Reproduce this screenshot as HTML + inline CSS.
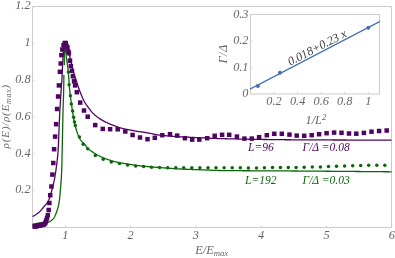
<!DOCTYPE html>
<html><head><meta charset="utf-8"><title>plot</title>
<style>html,body{margin:0;padding:0;background:#fff;}svg{display:block;will-change:transform;}text{font-family:"Liberation Serif",serif;font-style:italic;}</style></head><body>
<svg width="395" height="258" viewBox="0 0 395 258">
<rect width="395" height="258" fill="#fff"/>
<g stroke="#cbcbcb" stroke-width="1" fill="none">
<path d="M32.5,227.5 L32.5,6.5 L391.5,6.5 L391.5,227.5"/>
<path d="M32.5,227.5 L391.5,227.5"/>
</g>
<g stroke="#cbcbcb" stroke-width="0.8">
<line x1="32.5" y1="190.67" x2="34.7" y2="190.67"/>
<line x1="32.5" y1="153.83" x2="34.7" y2="153.83"/>
<line x1="32.5" y1="117.00" x2="34.7" y2="117.00"/>
<line x1="32.5" y1="80.16" x2="34.7" y2="80.16"/>
<line x1="32.5" y1="43.33" x2="34.7" y2="43.33"/>
<line x1="65.30" y1="227.5" x2="65.30" y2="225.2"/>
<line x1="130.60" y1="227.5" x2="130.60" y2="225.2"/>
<line x1="195.90" y1="227.5" x2="195.90" y2="225.2"/>
<line x1="261.20" y1="227.5" x2="261.20" y2="225.2"/>
<line x1="326.50" y1="227.5" x2="326.50" y2="225.2"/>
<line x1="391.80" y1="227.5" x2="391.80" y2="225.2"/>
</g>
<g fill="#666666" font-size="12.3">
<text x="30.6" y="193.47" text-anchor="end">0.2</text>
<text x="30.6" y="156.63" text-anchor="end">0.4</text>
<text x="30.6" y="119.80" text-anchor="end">0.6</text>
<text x="30.6" y="82.96" text-anchor="end">0.8</text>
<text x="30.6" y="46.13" text-anchor="end">1</text>
<text x="30.6" y="9.30" text-anchor="end">1.2</text>
<text x="65.30" y="238.7" text-anchor="middle">1</text>
<text x="130.60" y="238.7" text-anchor="middle">2</text>
<text x="195.90" y="238.7" text-anchor="middle">3</text>
<text x="261.20" y="238.7" text-anchor="middle">4</text>
<text x="326.50" y="238.7" text-anchor="middle">5</text>
<text x="391.80" y="238.7" text-anchor="middle">6</text>
<text x="195.3" y="254.2">E/E<tspan font-size="8.7" dy="2">max</tspan></text>
<text transform="translate(8.8,116.3) rotate(-90)" text-anchor="middle" font-size="11.3" letter-spacing="0.67">ρ(E)/ρ(E<tspan font-size="8" dy="2">max</tspan><tspan dy="-2">)</tspan></text>
</g>
<path d="M32.40,224.30 L32.89,224.20 L33.38,224.10 L33.87,224.01 L34.36,223.91 L34.85,223.82 L35.34,223.72 L35.83,223.63 L36.32,223.54 L36.81,223.45 L37.30,223.35 L37.79,223.25 L38.28,223.16 L38.77,223.07 L39.26,222.99 L39.75,222.93 L40.25,222.88 L40.74,222.83 L41.24,222.79 L41.74,222.76 L42.24,222.73 L42.73,222.70 L43.23,222.66 L43.73,222.62 L44.23,222.58 L44.73,222.53 L45.24,222.48 L45.75,222.43 L46.25,222.37 L46.76,222.31 L47.25,222.24 L47.73,222.16 L48.20,222.07 L48.66,221.96 L49.11,221.81 L49.56,221.62 L50.01,221.39 L50.46,221.13 L50.89,220.84 L51.32,220.52 L51.73,220.18 L52.13,219.84 L52.50,219.48 L52.86,219.12 L53.18,218.76 L53.48,218.41 L53.76,218.04 L54.02,217.65 L54.28,217.24 L54.53,216.81 L54.77,216.37 L55.00,215.92 L55.22,215.46 L55.43,214.98 L55.63,214.51 L55.83,214.03 L56.02,213.55 L56.20,213.07 L56.38,212.59 L56.56,212.12 L56.72,211.66 L56.89,211.19 L57.05,210.72 L57.20,210.25 L57.35,209.77 L57.50,209.29 L57.64,208.81 L57.77,208.33 L57.90,207.85 L58.03,207.36 L58.15,206.88 L58.27,206.39 L58.39,205.91 L58.50,205.42 L58.60,204.93 L58.70,204.45 L58.80,203.96 L58.90,203.47 L58.99,202.98 L59.07,202.48 L59.15,201.99 L59.23,201.50 L59.30,201.01 L59.36,200.51 L59.43,200.02 L59.49,199.52 L59.55,199.03 L59.60,198.54 L59.66,198.04 L59.71,197.54 L59.76,197.05 L59.82,196.55 L59.86,196.06 L59.91,195.56 L59.96,195.06 L60.00,194.57 L60.05,194.07 L60.09,193.57 L60.14,193.07 L60.18,192.58 L60.22,192.08 L60.27,191.58 L60.31,191.09 L60.35,190.59 L60.39,190.09 L60.43,189.60 L60.48,189.10 L60.52,188.60 L60.56,188.11 L60.61,187.61 L60.65,187.11 L60.69,186.62 L60.73,186.12 L60.78,185.62 L60.82,185.12 L60.86,184.63 L60.90,184.13 L60.94,183.63 L60.98,183.14 L61.02,182.64 L61.06,182.14 L61.10,181.64 L61.13,181.15 L61.17,180.65 L61.21,180.15 L61.24,179.65 L61.27,179.16 L61.31,178.66 L61.34,178.16 L61.37,177.66 L61.39,177.17 L61.42,176.67 L61.45,176.17 L61.47,175.67 L61.49,175.18 L61.51,174.68 L61.53,174.18 L61.55,173.68 L61.57,173.19 L61.59,172.69 L61.61,172.19 L61.63,171.69 L61.65,171.19 L61.66,170.70 L61.68,170.20 L61.70,169.70 L61.71,169.20 L61.73,168.70 L61.75,168.20 L61.76,167.71 L61.78,167.21 L61.79,166.71 L61.81,166.21 L61.82,165.71 L61.83,165.21 L61.85,164.72 L61.86,164.22 L61.87,163.72 L61.89,163.22 L61.90,162.72 L61.91,162.22 L61.93,161.73 L61.94,161.23 L61.95,160.73 L61.96,160.23 L61.97,159.73 L61.99,159.23 L62.00,158.73 L62.01,158.24 L62.02,157.74 L62.03,157.24 L62.04,156.74 L62.05,156.24 L62.07,155.74 L62.08,155.24 L62.09,154.75 L62.10,154.25 L62.11,153.75 L62.12,153.25 L62.13,152.75 L62.15,152.25 L62.16,151.75 L62.17,151.26 L62.18,150.76 L62.19,150.26 L62.21,149.76 L62.22,149.26 L62.23,148.76 L62.24,148.27 L62.25,147.77 L62.26,147.27 L62.28,146.77 L62.29,146.27 L62.30,145.77 L62.31,145.28 L62.32,144.78 L62.33,144.28 L62.34,143.78 L62.35,143.28 L62.36,142.78 L62.37,142.28 L62.38,141.79 L62.39,141.29 L62.40,140.79 L62.41,140.29 L62.43,139.79 L62.44,139.29 L62.45,138.80 L62.46,138.30 L62.47,137.80 L62.48,137.30 L62.48,136.80 L62.49,136.30 L62.50,135.81 L62.51,135.31 L62.52,134.81 L62.53,134.31 L62.54,133.81 L62.55,133.31 L62.56,132.81 L62.57,132.32 L62.58,131.82 L62.59,131.32 L62.60,130.82 L62.61,130.32 L62.62,129.82 L62.63,129.33 L62.64,128.83 L62.65,128.33 L62.66,127.83 L62.67,127.33 L62.68,126.83 L62.69,126.33 L62.70,125.84 L62.71,125.34 L62.72,124.84 L62.73,124.34 L62.74,123.84 L62.75,123.34 L62.76,122.85 L62.77,122.35 L62.78,121.85 L62.79,121.35 L62.80,120.85 L62.81,120.35 L62.82,119.85 L62.83,119.36 L62.84,118.86 L62.85,118.36 L62.86,117.86 L62.87,117.36 L62.89,116.86 L62.90,116.37 L62.91,115.87 L62.92,115.37 L62.93,114.87 L62.94,114.37 L62.95,113.87 L62.97,113.38 L62.98,112.88 L62.99,112.38 L63.00,111.88 L63.02,111.38 L63.03,110.88 L63.04,110.39 L63.06,109.89 L63.07,109.39 L63.08,108.89 L63.10,108.39 L63.11,107.89 L63.13,107.40 L63.14,106.90 L63.16,106.40 L63.17,105.90 L63.19,105.40 L63.21,104.90 L63.22,104.41 L63.24,103.91 L63.25,103.41 L63.27,102.91 L63.29,102.41 L63.30,101.91 L63.32,101.42 L63.34,100.92 L63.35,100.42 L63.37,99.92 L63.38,99.42 L63.40,98.92 L63.42,98.43 L63.43,97.93 L63.45,97.43 L63.46,96.93 L63.48,96.43 L63.50,95.93 L63.51,95.44 L63.53,94.94 L63.54,94.44 L63.55,93.94 L63.57,93.44 L63.58,92.94 L63.60,92.45 L63.61,91.95 L63.62,91.45 L63.63,90.95 L63.65,90.45 L63.66,89.95 L63.67,89.46 L63.68,88.96 L63.69,88.46 L63.70,87.96 L63.71,87.46 L63.72,86.96 L63.73,86.47 L63.74,85.97 L63.75,85.47 L63.76,84.97 L63.77,84.47 L63.77,83.97 L63.78,83.47 L63.79,82.98 L63.80,82.48 L63.81,81.98 L63.81,81.48 L63.82,80.98 L63.83,80.48 L63.84,79.99 L63.84,79.49 L63.85,78.99 L63.86,78.49 L63.86,77.99 L63.87,77.49 L63.88,76.99 L63.88,76.50 L63.89,76.00 L63.89,75.50 L63.90,75.00" fill="none" stroke="#0a680a" stroke-width="1.3" stroke-linejoin="round"/>
<path d="M64.30,65.30 L64.30,64.11 L64.30,62.97 L64.30,61.86 L64.30,60.79 L64.30,59.76 L64.31,58.77 L64.31,57.82 L64.31,56.90 L64.31,56.02 L64.31,55.18 L64.32,54.36 L64.32,53.59 L64.32,52.84 L64.33,52.13 L64.33,51.46 L64.34,50.81 L64.34,50.19 L64.35,49.61 L64.35,49.05 L64.36,48.53 L64.37,48.03 L64.37,47.56 L64.38,47.12 L64.39,46.70 L64.39,46.31 L64.40,45.95 L64.41,45.61 L64.42,45.29 L64.43,45.00 L64.43,44.73 L64.44,44.48 L64.45,44.25 L64.46,44.05 L64.47,43.87 L64.48,43.70 L64.49,43.56 L64.51,43.43 L64.52,43.32 L64.53,43.23 L64.54,43.15 L64.55,43.09 L64.57,43.05 L64.58,43.02 L64.59,43.00 L64.61,43.01 L64.63,43.10 L64.66,43.28 L64.70,43.56 L64.74,43.91 L64.80,44.34 L64.86,44.82 L64.92,45.36 L64.99,45.94 L65.06,46.55 L65.13,47.19 L65.21,47.84 L65.28,48.50 L65.36,49.16 L65.43,49.81 L65.51,50.44 L65.58,51.03 L65.65,51.59 L65.71,52.10 L65.78,52.60 L65.84,53.09 L65.91,53.59 L65.97,54.08 L66.04,54.58 L66.11,55.07 L66.17,55.57 L66.24,56.06 L66.31,56.56 L66.37,57.05 L66.44,57.55 L66.51,58.04 L66.57,58.54 L66.64,59.03 L66.71,59.53 L66.78,60.02 L66.85,60.52 L66.92,61.01 L66.99,61.51 L67.06,62.00 L67.14,62.50 L67.21,62.99 L67.28,63.49 L67.35,63.98 L67.42,64.48 L67.49,64.97 L67.56,65.47 L67.62,65.96 L67.69,66.46 L67.75,66.95 L67.81,67.45 L67.87,67.94 L67.93,68.44 L67.99,68.94 L68.04,69.43 L68.09,69.93 L68.14,70.43 L68.19,70.92 L68.23,71.42 L68.28,71.92 L68.32,72.41 L68.36,72.91 L68.40,73.41 L68.44,73.91 L68.48,74.41 L68.52,74.90 L68.56,75.40 L68.59,75.90 L68.63,76.40 L68.67,76.90 L68.71,77.40 L68.74,77.89 L68.78,78.39 L68.82,78.89 L68.85,79.39 L68.89,79.89 L68.93,80.39 L68.97,80.88 L69.00,81.38 L69.04,81.88 L69.07,82.38 L69.11,82.88 L69.14,83.38 L69.18,83.87 L69.21,84.37 L69.25,84.87 L69.29,85.37 L69.32,85.87 L69.36,86.37 L69.40,86.86 L69.44,87.36 L69.49,87.86 L69.53,88.36 L69.58,88.85 L69.63,89.35 L69.68,89.85 L69.73,90.34 L69.79,90.84 L69.84,91.34 L69.90,91.83 L69.96,92.33 L70.02,92.83 L70.07,93.32 L70.13,93.82 L70.19,94.31 L70.26,94.81 L70.32,95.31 L70.38,95.80 L70.44,96.30 L70.50,96.79 L70.56,97.29 L70.62,97.79 L70.68,98.28 L70.74,98.78 L70.80,99.27 L70.86,99.77 L70.93,100.26 L70.99,100.76 L71.05,101.26 L71.12,101.75 L71.18,102.25 L71.25,102.74 L71.32,103.24 L71.38,103.73 L71.45,104.23 L71.52,104.72 L71.59,105.22 L71.66,105.71 L71.73,106.21 L71.80,106.70 L71.88,107.19 L71.95,107.69 L72.03,108.18 L72.10,108.67 L72.18,109.17 L72.26,109.66 L72.33,110.16 L72.41,110.65 L72.49,111.15 L72.56,111.64 L72.64,112.14 L72.72,112.63 L72.80,113.13 L72.88,113.62 L72.96,114.12 L73.04,114.61 L73.12,115.11 L73.21,115.60 L73.29,116.10 L73.38,116.59 L73.46,117.09 L73.55,117.58 L73.64,118.08 L73.73,118.57 L73.82,119.06 L73.91,119.55 L74.01,120.05 L74.10,120.54 L74.20,121.03 L74.30,121.52 L74.40,122.01 L74.50,122.49 L74.61,122.98 L74.71,123.47 L74.82,123.95 L74.93,124.44 L75.04,124.92 L75.15,125.41 L75.27,125.89 L75.39,126.37 L75.51,126.85 L75.63,127.33 L75.76,127.81 L75.89,128.29 L76.02,128.77 L76.16,129.26 L76.30,129.74 L76.44,130.23 L76.59,130.72 L76.74,131.21 L76.90,131.69 L77.06,132.18 L77.22,132.66 L77.39,133.14 L77.57,133.62 L77.74,134.10 L77.92,134.58 L78.11,135.05 L78.30,135.51 L78.50,135.98 L78.70,136.43 L78.90,136.88 L79.11,137.33 L79.33,137.77 L79.55,138.21 L79.77,138.63 L80.00,139.05 L80.24,139.47 L80.49,139.87 L80.78,140.26 L81.08,140.64 L81.40,141.02 L81.74,141.39 L82.08,141.75 L82.44,142.11 L82.80,142.47 L83.17,142.83 L83.53,143.19 L83.89,143.55 L84.25,143.92 L84.59,144.29 L84.92,144.67 L85.24,145.06 L85.54,145.46 L85.84,145.86 L86.13,146.28 L86.43,146.68 L86.73,147.09 L87.03,147.48 L87.35,147.86 L87.68,148.22 L88.03,148.56 L88.39,148.90 L88.77,149.22 L89.15,149.54 L89.54,149.85 L89.94,150.16 L90.35,150.46 L90.76,150.75 L91.18,151.04 L91.59,151.33 L92.01,151.61 L92.42,151.89 L92.83,152.17 L93.25,152.44 L93.67,152.71 L94.09,152.98 L94.51,153.25 L94.94,153.51 L95.37,153.77 L95.80,154.03 L96.23,154.29 L96.66,154.54 L97.10,154.78 L97.54,155.03 L97.98,155.27 L98.42,155.50 L98.86,155.73 L99.31,155.96 L99.75,156.18 L100.20,156.40 L100.65,156.61 L101.10,156.82 L101.55,157.03 L102.01,157.23 L102.47,157.43 L102.93,157.63 L103.39,157.82 L103.85,158.01 L104.32,158.20 L104.78,158.39 L105.25,158.57 L105.72,158.75 L106.19,158.92 L106.66,159.09 L107.13,159.26 L107.60,159.43 L108.07,159.59 L108.54,159.76 L109.01,159.92 L109.49,160.08 L109.96,160.23 L110.44,160.39 L110.91,160.54 L111.39,160.69 L111.87,160.84 L112.35,160.98 L112.83,161.12 L113.31,161.26 L113.79,161.39 L114.28,161.52 L114.76,161.64 L115.24,161.76 L115.73,161.88 L116.21,161.99 L116.70,162.10 L117.19,162.20 L117.68,162.31 L118.17,162.41 L118.66,162.50 L119.15,162.60 L119.64,162.69 L120.13,162.79 L120.62,162.88 L121.11,162.97 L121.61,163.05 L122.10,163.14 L122.59,163.23 L123.08,163.31 L123.57,163.40 L124.07,163.48 L124.56,163.57 L125.05,163.65 L125.55,163.73 L126.04,163.80 L126.53,163.88 L127.03,163.96 L127.52,164.03 L128.01,164.11 L128.51,164.18 L129.00,164.26 L129.50,164.33 L129.99,164.41 L130.48,164.48 L130.98,164.56 L131.47,164.63 L131.97,164.71 L132.46,164.78 L132.95,164.86 L133.45,164.94 L133.94,165.01 L134.44,165.08 L134.93,165.16 L135.42,165.23 L135.92,165.30 L136.41,165.37 L136.91,165.44 L137.40,165.50 L137.90,165.56 L138.40,165.62 L138.89,165.68 L139.39,165.74 L139.88,165.79 L140.38,165.85 L140.88,165.90 L141.37,165.95 L141.87,166.00 L142.37,166.05 L142.87,166.10 L143.36,166.14 L143.86,166.19 L144.36,166.24 L144.86,166.29 L145.35,166.33 L145.85,166.38 L146.35,166.43 L146.85,166.47 L147.34,166.52 L147.84,166.56 L148.34,166.61 L148.84,166.65 L149.33,166.70 L149.83,166.74 L150.33,166.79 L150.83,166.83 L151.32,166.87 L151.82,166.92 L152.32,166.96 L152.82,167.00 L153.31,167.04 L153.81,167.09 L154.31,167.13 L154.81,167.17 L155.31,167.21 L155.80,167.25 L156.30,167.29 L156.80,167.33 L157.30,167.37 L157.80,167.41 L158.29,167.45 L158.79,167.49 L159.29,167.53 L159.79,167.57 L160.29,167.61 L160.78,167.64 L161.28,167.68 L161.78,167.72 L162.28,167.76 L162.78,167.80 L163.27,167.84 L163.77,167.88 L164.27,167.91 L164.77,167.95 L165.27,167.99 L165.77,168.03 L166.26,168.07 L166.76,168.10 L167.26,168.14 L167.76,168.18 L168.26,168.22 L168.75,168.25 L169.25,168.29 L169.75,168.33 L170.25,168.36 L170.75,168.40 L171.25,168.43 L171.74,168.47 L172.24,168.50 L172.74,168.54 L173.24,168.57 L173.74,168.60 L174.24,168.64 L174.74,168.67 L175.23,168.70 L175.73,168.73 L176.23,168.76 L176.73,168.79 L177.23,168.82 L177.73,168.85 L178.23,168.88 L178.72,168.91 L179.22,168.93 L179.72,168.96 L180.22,168.99 L180.72,169.01 L181.22,169.04 L181.72,169.06 L182.22,169.08 L182.71,169.11 L183.21,169.13 L183.71,169.15 L184.21,169.17 L184.71,169.19 L185.21,169.21 L185.71,169.23 L186.21,169.25 L186.71,169.27 L187.21,169.29 L187.71,169.31 L188.20,169.33 L188.70,169.35 L189.20,169.37 L189.70,169.39 L190.20,169.41 L190.70,169.42 L191.20,169.44 L191.70,169.46 L192.20,169.48 L192.70,169.50 L193.20,169.51 L193.70,169.53 L194.20,169.55 L194.70,169.57 L195.19,169.58 L195.69,169.60 L196.19,169.62 L196.69,169.64 L197.19,169.65 L197.69,169.67 L198.19,169.69 L198.69,169.71 L199.19,169.73 L199.69,169.75 L200.19,169.76 L200.69,169.78 L201.19,169.80 L201.69,169.82 L202.18,169.84 L202.68,169.86 L203.18,169.89 L203.68,169.91 L204.18,169.93 L204.68,169.95 L205.18,169.97 L205.68,170.00 L206.18,170.02 L206.68,170.04 L207.18,170.07 L207.68,170.09 L208.17,170.11 L208.67,170.13 L209.17,170.16 L209.67,170.18 L210.17,170.20 L210.67,170.22 L211.17,170.25 L211.67,170.27 L212.17,170.29 L212.67,170.31 L213.17,170.33 L213.67,170.35 L214.16,170.36 L214.66,170.38 L215.16,170.40 L215.66,170.42 L216.16,170.43 L216.66,170.45 L217.16,170.46 L217.66,170.47 L218.16,170.48 L218.66,170.49 L219.16,170.50 L219.66,170.51 L220.16,170.52 L220.66,170.52 L221.15,170.53 L221.65,170.54 L222.15,170.54 L222.65,170.55 L223.15,170.55 L223.65,170.56 L224.15,170.56 L224.65,170.57 L225.15,170.58 L225.65,170.58 L226.15,170.59 L226.65,170.59 L227.15,170.60 L227.65,170.60 L228.15,170.61 L228.65,170.61 L229.14,170.62 L229.64,170.62 L230.14,170.63 L230.64,170.63 L231.14,170.64 L231.64,170.64 L232.14,170.65 L232.64,170.65 L233.14,170.65 L233.64,170.66 L234.14,170.66 L234.64,170.67 L235.14,170.67 L235.64,170.68 L236.14,170.68 L236.64,170.68 L237.14,170.69 L237.64,170.69 L238.14,170.70 L238.63,170.70 L239.13,170.70 L239.63,170.71 L240.13,170.71 L240.63,170.71 L241.13,170.72 L241.63,170.72 L242.13,170.72 L242.63,170.73 L243.13,170.73 L243.63,170.73 L244.13,170.74 L244.63,170.74 L245.13,170.74 L245.63,170.75 L246.13,170.75 L246.63,170.75 L247.13,170.76 L247.63,170.76 L248.13,170.76 L248.63,170.76 L249.13,170.77 L249.62,170.77 L250.12,170.77 L250.62,170.78 L251.12,170.78 L251.62,170.78 L252.12,170.78 L252.62,170.79 L253.12,170.79 L253.62,170.79 L254.12,170.79 L254.62,170.80 L255.12,170.80 L255.62,170.80 L256.12,170.80 L256.62,170.81 L257.12,170.81 L257.62,170.81 L258.12,170.81 L258.62,170.81 L259.12,170.82 L259.62,170.82 L260.12,170.82 L260.62,170.82 L261.12,170.83 L261.62,170.83 L262.11,170.83 L262.61,170.83 L263.11,170.84 L263.61,170.84 L264.11,170.84 L264.61,170.84 L265.11,170.84 L265.61,170.85 L266.11,170.85 L266.61,170.85 L267.11,170.85 L267.61,170.85 L268.11,170.86 L268.61,170.86 L269.11,170.86 L269.61,170.86 L270.11,170.87 L270.61,170.87 L271.11,170.87 L271.61,170.87 L272.11,170.87 L272.61,170.88 L273.11,170.88 L273.61,170.88 L274.11,170.88 L274.61,170.89 L275.10,170.89 L275.60,170.89 L276.10,170.89 L276.60,170.89 L277.10,170.90 L277.60,170.90 L278.10,170.90 L278.60,170.90 L279.10,170.91 L279.60,170.91 L280.10,170.91 L280.60,170.91 L281.10,170.92 L281.60,170.92 L282.10,170.92 L282.60,170.92 L283.10,170.93 L283.60,170.93 L284.10,170.93 L284.60,170.93 L285.10,170.94 L285.60,170.94 L286.10,170.94 L286.60,170.95 L287.10,170.95 L287.59,170.95 L288.09,170.95 L288.59,170.96 L289.09,170.96 L289.59,170.96 L290.09,170.97 L290.59,170.97 L291.09,170.97 L291.59,170.98 L292.09,170.98 L292.59,170.98 L293.09,170.99 L293.59,170.99 L294.09,170.99 L294.59,171.00 L295.09,171.00 L295.59,171.00 L296.09,171.01 L296.59,171.01 L297.09,171.02 L297.59,171.02 L298.09,171.02 L298.59,171.03 L299.08,171.03 L299.58,171.03 L300.08,171.04 L300.58,171.04 L301.08,171.04 L301.58,171.05 L302.08,171.05 L302.58,171.06 L303.08,171.06 L303.58,171.06 L304.08,171.07 L304.58,171.07 L305.08,171.07 L305.58,171.08 L306.08,171.08 L306.58,171.09 L307.08,171.09 L307.58,171.09 L308.08,171.10 L308.58,171.10 L309.08,171.10 L309.58,171.11 L310.07,171.11 L310.57,171.12 L311.07,171.12 L311.57,171.12 L312.07,171.13 L312.57,171.13 L313.07,171.13 L313.57,171.14 L314.07,171.14 L314.57,171.15 L315.07,171.15 L315.57,171.15 L316.07,171.16 L316.57,171.16 L317.07,171.17 L317.57,171.17 L318.07,171.17 L318.57,171.18 L319.07,171.18 L319.57,171.18 L320.07,171.19 L320.57,171.19 L321.06,171.20 L321.56,171.20 L322.06,171.20 L322.56,171.21 L323.06,171.21 L323.56,171.22 L324.06,171.22 L324.56,171.22 L325.06,171.23 L325.56,171.23 L326.06,171.24 L326.56,171.24 L327.06,171.24 L327.56,171.25 L328.06,171.25 L328.56,171.26 L329.06,171.26 L329.56,171.26 L330.06,171.27 L330.56,171.27 L331.06,171.28 L331.56,171.28 L332.05,171.28 L332.55,171.29 L333.05,171.29 L333.55,171.30 L334.05,171.30 L334.55,171.30 L335.05,171.31 L335.55,171.31 L336.05,171.32 L336.55,171.32 L337.05,171.32 L337.55,171.33 L338.05,171.33 L338.55,171.34 L339.05,171.34 L339.55,171.34 L340.05,171.35 L340.55,171.35 L341.05,171.36 L341.55,171.36 L342.05,171.36 L342.54,171.37 L343.04,171.37 L343.54,171.38 L344.04,171.38 L344.54,171.39 L345.04,171.39 L345.54,171.39 L346.04,171.40 L346.54,171.40 L347.04,171.41 L347.54,171.41 L348.04,171.41 L348.54,171.42 L349.04,171.42 L349.54,171.43 L350.04,171.43 L350.54,171.44 L351.04,171.44 L351.54,171.44 L352.04,171.45 L352.54,171.45 L353.04,171.46 L353.53,171.46 L354.03,171.47 L354.53,171.47 L355.03,171.47 L355.53,171.48 L356.03,171.48 L356.53,171.49 L357.03,171.49 L357.53,171.50 L358.03,171.50 L358.53,171.50 L359.03,171.51 L359.53,171.51 L360.03,171.52 L360.53,171.52 L361.03,171.53 L361.53,171.53 L362.03,171.53 L362.53,171.54 L363.03,171.54 L363.53,171.55 L364.03,171.55 L364.52,171.56 L365.02,171.56 L365.52,171.57 L366.02,171.57 L366.52,171.57 L367.02,171.58 L367.52,171.58 L368.02,171.59 L368.52,171.59 L369.02,171.60 L369.52,171.60 L370.02,171.60 L370.52,171.61 L371.02,171.61 L371.52,171.62 L372.02,171.62 L372.52,171.63 L373.02,171.63 L373.52,171.64 L374.02,171.64 L374.52,171.64 L375.02,171.65 L375.51,171.65 L376.01,171.66 L376.51,171.66 L377.01,171.67 L377.51,171.67 L378.01,171.68 L378.51,171.68 L379.01,171.69 L379.51,171.69 L380.01,171.69 L380.51,171.70 L381.01,171.70 L381.51,171.71 L382.01,171.71 L382.51,171.72 L383.01,171.72 L383.51,171.73 L384.01,171.73 L384.51,171.74 L385.01,171.74 L385.51,171.74 L386.01,171.75 L386.50,171.75 L387.00,171.76 L387.50,171.76 L388.00,171.77 L388.50,171.77 L389.00,171.78 L389.50,171.78 L390.00,171.79 L390.50,171.79 L391.00,171.80 L391.50,171.80" fill="none" stroke="#0a680a" stroke-width="1.3" stroke-linejoin="round"/>
<path d="M32.40,216.50 L32.86,216.28 L33.32,216.05 L33.77,215.81 L34.22,215.57 L34.66,215.32 L35.09,215.06 L35.52,214.80 L35.94,214.53 L36.36,214.25 L36.77,213.97 L37.17,213.68 L37.57,213.39 L37.96,213.09 L38.35,212.79 L38.72,212.48 L39.09,212.16 L39.45,211.83 L39.81,211.49 L40.16,211.14 L40.50,210.78 L40.84,210.41 L41.18,210.04 L41.51,209.66 L41.83,209.27 L42.16,208.88 L42.48,208.49 L42.80,208.10 L43.12,207.70 L43.44,207.31 L43.75,206.92 L44.07,206.54 L44.39,206.15 L44.72,205.77 L45.05,205.39 L45.39,205.00 L45.72,204.62 L46.05,204.23 L46.38,203.84 L46.70,203.44 L47.01,203.04 L47.31,202.64 L47.59,202.24 L47.85,201.82 L48.09,201.40 L48.31,200.98 L48.52,200.55 L48.71,200.11 L48.91,199.66 L49.09,199.21 L49.28,198.76 L49.45,198.30 L49.62,197.83 L49.79,197.36 L49.95,196.89 L50.11,196.42 L50.26,195.94 L50.41,195.45 L50.56,194.97 L50.70,194.48 L50.84,193.99 L50.97,193.50 L51.11,193.01 L51.24,192.52 L51.37,192.03 L51.50,191.54 L51.63,191.04 L51.75,190.55 L51.88,190.06 L52.00,189.57 L52.12,189.08 L52.25,188.60 L52.37,188.11 L52.49,187.63 L52.62,187.15 L52.74,186.66 L52.86,186.18 L52.98,185.69 L53.10,185.21 L53.22,184.72 L53.33,184.24 L53.45,183.75 L53.56,183.26 L53.68,182.77 L53.79,182.29 L53.90,181.80 L54.01,181.31 L54.11,180.82 L54.22,180.33 L54.32,179.84 L54.42,179.35 L54.52,178.86 L54.61,178.37 L54.70,177.88 L54.80,177.39 L54.88,176.89 L54.97,176.40 L55.05,175.91 L55.13,175.42 L55.21,174.93 L55.29,174.44 L55.36,173.94 L55.44,173.45 L55.51,172.96 L55.59,172.46 L55.66,171.97 L55.74,171.48 L55.81,170.98 L55.88,170.49 L55.95,170.00 L56.02,169.50 L56.09,169.01 L56.16,168.51 L56.23,168.02 L56.30,167.52 L56.37,167.03 L56.43,166.53 L56.50,166.03 L56.57,165.54 L56.63,165.04 L56.70,164.55 L56.76,164.05 L56.82,163.55 L56.88,163.06 L56.94,162.56 L57.00,162.06 L57.06,161.57 L57.12,161.07 L57.18,160.57 L57.23,160.07 L57.29,159.58 L57.34,159.08 L57.39,158.58 L57.45,158.08 L57.50,157.59 L57.55,157.09 L57.60,156.59 L57.64,156.09 L57.69,155.59 L57.74,155.10 L57.78,154.60 L57.83,154.10 L57.87,153.60 L57.91,153.10 L57.95,152.61 L57.99,152.11 L58.02,151.61 L58.06,151.11 L58.10,150.61 L58.13,150.12 L58.16,149.62 L58.19,149.12 L58.22,148.62 L58.25,148.12 L58.28,147.63 L58.31,147.13 L58.33,146.63 L58.36,146.13 L58.38,145.63 L58.41,145.13 L58.43,144.64 L58.45,144.14 L58.47,143.64 L58.50,143.14 L58.52,142.64 L58.54,142.14 L58.56,141.64 L58.58,141.14 L58.60,140.64 L58.62,140.14 L58.63,139.64 L58.65,139.14 L58.67,138.64 L58.69,138.14 L58.71,137.65 L58.73,137.15 L58.74,136.65 L58.76,136.15 L58.78,135.65 L58.80,135.15 L58.82,134.65 L58.83,134.15 L58.85,133.65 L58.87,133.15 L58.89,132.65 L58.91,132.15 L58.93,131.65 L58.95,131.15 L58.97,130.65 L58.99,130.15 L59.02,129.65 L59.04,129.16 L59.06,128.66 L59.08,128.16 L59.10,127.66 L59.12,127.16 L59.14,126.66 L59.17,126.16 L59.19,125.66 L59.21,125.16 L59.23,124.66 L59.25,124.16 L59.27,123.66 L59.29,123.17 L59.31,122.67 L59.34,122.17 L59.36,121.67 L59.38,121.17 L59.40,120.67 L59.42,120.17 L59.44,119.67 L59.47,119.17 L59.49,118.67 L59.51,118.17 L59.53,117.68 L59.55,117.18 L59.58,116.68 L59.60,116.18 L59.62,115.68 L59.64,115.18 L59.67,114.68 L59.69,114.18 L59.71,113.68 L59.74,113.18 L59.76,112.68 L59.79,112.19 L59.81,111.69 L59.84,111.19 L59.86,110.69 L59.89,110.19 L59.91,109.69 L59.94,109.19 L59.96,108.69 L59.99,108.19 L60.02,107.70 L60.04,107.20 L60.07,106.70 L60.10,106.20 L60.13,105.70 L60.16,105.20 L60.19,104.70 L60.22,104.20 L60.25,103.71 L60.28,103.21 L60.31,102.71 L60.34,102.21 L60.37,101.71 L60.40,101.21 L60.44,100.71 L60.47,100.22 L60.50,99.72 L60.53,99.22 L60.57,98.72 L60.60,98.22 L60.63,97.72 L60.67,97.23 L60.70,96.73 L60.73,96.23 L60.77,95.73 L60.80,95.23 L60.84,94.73 L60.87,94.23 L60.91,93.74 L60.94,93.24 L60.97,92.74 L61.01,92.24 L61.04,91.74 L61.08,91.24 L61.11,90.75 L61.15,90.25 L61.18,89.75 L61.21,89.25 L61.25,88.75 L61.28,88.25 L61.32,87.76 L61.35,87.26 L61.39,86.76 L61.42,86.26 L61.46,85.76 L61.50,85.26 L61.53,84.77 L61.57,84.27 L61.61,83.77 L61.64,83.27 L61.68,82.77 L61.72,82.27 L61.75,81.78 L61.79,81.28 L61.82,80.78 L61.86,80.28 L61.89,79.78 L61.92,79.28 L61.95,78.79 L61.98,78.29 L62.01,77.79 L62.04,77.29 L62.07,76.79 L62.09,76.29 L62.12,75.79 L62.14,75.29 L62.16,74.79 L62.19,74.30 L62.21,73.80 L62.23,73.30 L62.25,72.80 L62.27,72.30 L62.29,71.80 L62.31,71.30 L62.34,70.80 L62.36,70.30 L62.38,69.80 L62.40,69.30 L62.42,68.80 L62.44,68.31 L62.46,67.81 L62.49,67.31 L62.51,66.81 L62.53,66.31 L62.56,65.81 L62.58,65.31 L62.61,64.81 L62.64,64.31 L62.66,63.81 L62.69,63.32 L62.72,62.82 L62.74,62.32 L62.77,61.82 L62.80,61.32 L62.82,60.82 L62.85,60.32 L62.88,59.82 L62.91,59.32 L62.94,58.83 L62.97,58.33 L63.00,57.83 L63.04,57.33 L63.07,56.83 L63.10,56.33 L63.14,55.84 L63.17,55.34 L63.21,54.84 L63.25,54.34 L63.29,53.84 L63.32,53.34 L63.36,52.84 L63.40,52.34 L63.44,51.84 L63.49,51.34 L63.53,50.84 L63.58,50.34 L63.63,49.84 L63.68,49.35 L63.74,48.85 L63.80,48.36 L63.87,47.87 L63.94,47.38 L64.02,46.89 L64.11,46.33 L64.22,45.71 L64.35,45.08 L64.49,44.46 L64.65,43.91 L64.82,43.45 L64.99,43.14 L65.18,43.00 L65.38,43.08 L65.64,43.36 L65.92,43.79 L66.21,44.31 L66.49,44.87 L66.75,45.43 L66.97,45.94 L67.16,46.39 L67.33,46.85 L67.49,47.32 L67.64,47.79 L67.79,48.27 L67.93,48.75 L68.06,49.23 L68.19,49.72 L68.32,50.21 L68.44,50.70 L68.56,51.19 L68.68,51.68 L68.80,52.17 L68.91,52.66 L69.04,53.14 L69.15,53.63 L69.27,54.11 L69.39,54.60 L69.50,55.09 L69.61,55.57 L69.71,56.06 L69.82,56.55 L69.93,57.04 L70.03,57.53 L70.13,58.01 L70.24,58.50 L70.34,58.99 L70.45,59.48 L70.55,59.97 L70.66,60.46 L70.76,60.95 L70.87,61.43 L70.98,61.92 L71.09,62.41 L71.20,62.90 L71.31,63.38 L71.42,63.87 L71.53,64.36 L71.64,64.85 L71.75,65.34 L71.86,65.82 L71.97,66.31 L72.08,66.80 L72.19,67.29 L72.31,67.77 L72.43,68.26 L72.54,68.74 L72.67,69.23 L72.79,69.71 L72.92,70.19 L73.05,70.67 L73.18,71.15 L73.32,71.63 L73.46,72.11 L73.61,72.59 L73.76,73.06 L73.91,73.54 L74.07,74.02 L74.22,74.49 L74.38,74.97 L74.54,75.44 L74.70,75.91 L74.86,76.39 L75.02,76.86 L75.18,77.33 L75.34,77.81 L75.50,78.28 L75.65,78.76 L75.81,79.23 L75.96,79.71 L76.12,80.18 L76.27,80.66 L76.42,81.14 L76.57,81.61 L76.73,82.09 L76.88,82.57 L77.03,83.04 L77.19,83.52 L77.34,83.99 L77.49,84.47 L77.65,84.95 L77.80,85.42 L77.96,85.90 L78.12,86.37 L78.27,86.85 L78.43,87.32 L78.59,87.79 L78.76,88.27 L78.92,88.74 L79.09,89.21 L79.25,89.68 L79.42,90.15 L79.60,90.61 L79.77,91.08 L79.95,91.55 L80.13,92.01 L80.31,92.48 L80.49,92.94 L80.68,93.40 L80.86,93.87 L81.05,94.33 L81.24,94.80 L81.43,95.26 L81.63,95.72 L81.83,96.19 L82.03,96.65 L82.23,97.11 L82.43,97.56 L82.64,98.02 L82.85,98.48 L83.07,98.93 L83.28,99.38 L83.50,99.83 L83.73,100.27 L83.95,100.72 L84.19,101.16 L84.42,101.59 L84.66,102.03 L84.90,102.45 L85.15,102.88 L85.41,103.30 L85.68,103.73 L85.95,104.14 L86.22,104.56 L86.50,104.97 L86.79,105.39 L87.08,105.80 L87.37,106.20 L87.67,106.61 L87.97,107.01 L88.27,107.42 L88.57,107.82 L88.87,108.22 L89.18,108.62 L89.48,109.02 L89.78,109.41 L90.08,109.81 L90.39,110.21 L90.69,110.61 L90.99,111.01 L91.30,111.41 L91.62,111.80 L91.94,112.18 L92.27,112.55 L92.61,112.91 L92.96,113.26 L93.31,113.60 L93.67,113.95 L94.04,114.29 L94.41,114.62 L94.78,114.95 L95.17,115.28 L95.55,115.60 L95.94,115.92 L96.34,116.24 L96.73,116.55 L97.14,116.85 L97.54,117.16 L97.95,117.45 L98.35,117.75 L98.76,118.03 L99.18,118.32 L99.59,118.60 L100.00,118.87 L100.42,119.14 L100.83,119.40 L101.26,119.67 L101.68,119.92 L102.11,120.18 L102.55,120.43 L102.98,120.67 L103.42,120.92 L103.86,121.16 L104.31,121.39 L104.75,121.62 L105.20,121.85 L105.65,122.08 L106.10,122.30 L106.55,122.52 L107.00,122.73 L107.45,122.94 L107.91,123.15 L108.36,123.35 L108.82,123.55 L109.27,123.75 L109.73,123.94 L110.20,124.13 L110.66,124.32 L111.12,124.51 L111.59,124.69 L112.06,124.87 L112.53,125.05 L112.99,125.22 L113.46,125.40 L113.93,125.57 L114.40,125.74 L114.87,125.91 L115.34,126.08 L115.81,126.25 L116.28,126.42 L116.75,126.59 L117.22,126.76 L117.70,126.93 L118.17,127.10 L118.64,127.26 L119.11,127.43 L119.59,127.59 L120.06,127.75 L120.54,127.90 L121.02,128.05 L121.49,128.19 L121.97,128.33 L122.45,128.46 L122.93,128.58 L123.42,128.70 L123.90,128.81 L124.39,128.92 L124.88,129.03 L125.37,129.13 L125.86,129.22 L126.35,129.32 L126.84,129.41 L127.33,129.50 L127.82,129.59 L128.32,129.68 L128.81,129.77 L129.30,129.86 L129.79,129.95 L130.28,130.04 L130.78,130.13 L131.27,130.23 L131.76,130.32 L132.25,130.42 L132.74,130.51 L133.23,130.61 L133.72,130.70 L134.21,130.80 L134.70,130.89 L135.19,130.98 L135.68,131.07 L136.18,131.16 L136.67,131.25 L137.16,131.33 L137.65,131.41 L138.15,131.49 L138.64,131.57 L139.13,131.64 L139.63,131.70 L140.12,131.77 L140.62,131.83 L141.12,131.89 L141.61,131.95 L142.11,132.01 L142.60,132.08 L143.10,132.14 L143.59,132.20 L144.09,132.27 L144.58,132.34 L145.08,132.41 L145.57,132.49 L146.06,132.57 L146.56,132.66 L147.05,132.74 L147.54,132.83 L148.03,132.93 L148.52,133.02 L149.01,133.12 L149.50,133.22 L149.99,133.32 L150.48,133.43 L150.97,133.53 L151.46,133.63 L151.95,133.74 L152.44,133.84 L152.93,133.94 L153.42,134.05 L153.91,134.15 L154.40,134.25 L154.89,134.34 L155.39,134.44 L155.88,134.53 L156.37,134.62 L156.86,134.71 L157.35,134.80 L157.84,134.88 L158.33,134.95 L158.83,135.02 L159.32,135.09 L159.81,135.15 L160.31,135.21 L160.80,135.27 L161.30,135.32 L161.79,135.37 L162.29,135.43 L162.79,135.48 L163.28,135.53 L163.78,135.57 L164.28,135.62 L164.77,135.67 L165.27,135.71 L165.77,135.76 L166.26,135.80 L166.76,135.84 L167.26,135.89 L167.76,135.93 L168.26,135.97 L168.75,136.01 L169.25,136.05 L169.75,136.09 L170.25,136.12 L170.75,136.16 L171.25,136.20 L171.75,136.23 L172.25,136.27 L172.74,136.30 L173.24,136.34 L173.74,136.37 L174.24,136.41 L174.74,136.44 L175.24,136.47 L175.74,136.50 L176.24,136.54 L176.74,136.57 L177.24,136.60 L177.74,136.63 L178.24,136.66 L178.73,136.69 L179.23,136.72 L179.73,136.75 L180.23,136.78 L180.73,136.81 L181.23,136.84 L181.73,136.87 L182.23,136.90 L182.72,136.93 L183.22,136.96 L183.72,136.99 L184.22,137.01 L184.72,137.04 L185.22,137.07 L185.72,137.10 L186.22,137.12 L186.71,137.15 L187.21,137.17 L187.71,137.20 L188.21,137.22 L188.71,137.25 L189.21,137.27 L189.71,137.30 L190.21,137.32 L190.71,137.34 L191.21,137.37 L191.70,137.39 L192.20,137.42 L192.70,137.44 L193.20,137.46 L193.70,137.48 L194.20,137.51 L194.70,137.53 L195.20,137.55 L195.70,137.58 L196.20,137.60 L196.70,137.62 L197.19,137.64 L197.69,137.67 L198.19,137.69 L198.69,137.71 L199.19,137.73 L199.69,137.75 L200.19,137.78 L200.69,137.80 L201.19,137.82 L201.69,137.84 L202.19,137.87 L202.68,137.89 L203.18,137.91 L203.68,137.94 L204.18,137.96 L204.68,137.98 L205.18,138.01 L205.68,138.03 L206.18,138.06 L206.68,138.08 L207.18,138.10 L207.68,138.13 L208.17,138.15 L208.67,138.17 L209.17,138.19 L209.67,138.22 L210.17,138.24 L210.67,138.26 L211.17,138.28 L211.67,138.31 L212.17,138.33 L212.67,138.35 L213.17,138.37 L213.67,138.39 L214.16,138.41 L214.66,138.43 L215.16,138.45 L215.66,138.47 L216.16,138.48 L216.66,138.50 L217.16,138.52 L217.66,138.53 L218.16,138.55 L218.66,138.56 L219.16,138.58 L219.66,138.59 L220.16,138.60 L220.65,138.62 L221.15,138.63 L221.65,138.64 L222.15,138.65 L222.65,138.67 L223.15,138.68 L223.65,138.69 L224.15,138.70 L224.65,138.72 L225.15,138.73 L225.65,138.74 L226.15,138.75 L226.65,138.76 L227.15,138.78 L227.65,138.79 L228.14,138.80 L228.64,138.81 L229.14,138.82 L229.64,138.83 L230.14,138.85 L230.64,138.86 L231.14,138.87 L231.64,138.88 L232.14,138.89 L232.64,138.90 L233.14,138.91 L233.64,138.92 L234.14,138.94 L234.64,138.95 L235.14,138.96 L235.64,138.97 L236.14,138.98 L236.63,138.99 L237.13,139.00 L237.63,139.01 L238.13,139.02 L238.63,139.03 L239.13,139.04 L239.63,139.05 L240.13,139.06 L240.63,139.07 L241.13,139.08 L241.63,139.10 L242.13,139.11 L242.63,139.12 L243.13,139.13 L243.63,139.14 L244.13,139.15 L244.63,139.16 L245.13,139.16 L245.63,139.17 L246.12,139.18 L246.62,139.19 L247.12,139.20 L247.62,139.21 L248.12,139.22 L248.62,139.23 L249.12,139.24 L249.62,139.25 L250.12,139.26 L250.62,139.27 L251.12,139.28 L251.62,139.29 L252.12,139.30 L252.62,139.30 L253.12,139.31 L253.62,139.32 L254.12,139.33 L254.62,139.34 L255.12,139.35 L255.62,139.36 L256.12,139.36 L256.61,139.37 L257.11,139.38 L257.61,139.39 L258.11,139.40 L258.61,139.40 L259.11,139.41 L259.61,139.42 L260.11,139.43 L260.61,139.44 L261.11,139.44 L261.61,139.45 L262.11,139.46 L262.61,139.47 L263.11,139.47 L263.61,139.48 L264.11,139.49 L264.61,139.50 L265.11,139.50 L265.61,139.51 L266.11,139.52 L266.61,139.52 L267.11,139.53 L267.61,139.54 L268.11,139.54 L268.60,139.55 L269.10,139.56 L269.60,139.56 L270.10,139.57 L270.60,139.58 L271.10,139.58 L271.60,139.59 L272.10,139.60 L272.60,139.60 L273.10,139.61 L273.60,139.61 L274.10,139.62 L274.60,139.63 L275.10,139.63 L275.60,139.64 L276.10,139.64 L276.60,139.65 L277.10,139.65 L277.60,139.66 L278.10,139.66 L278.60,139.67 L279.10,139.68 L279.60,139.68 L280.10,139.69 L280.59,139.69 L281.09,139.70 L281.59,139.70 L282.09,139.70 L282.59,139.71 L283.09,139.71 L283.59,139.72 L284.09,139.72 L284.59,139.73 L285.09,139.73 L285.59,139.74 L286.09,139.74 L286.59,139.74 L287.09,139.75 L287.59,139.75 L288.09,139.76 L288.59,139.76 L289.09,139.76 L289.59,139.77 L290.09,139.77 L290.59,139.77 L291.09,139.78 L291.59,139.78 L292.08,139.78 L292.58,139.79 L293.08,139.79 L293.58,139.79 L294.08,139.79 L294.58,139.80 L295.08,139.80 L295.58,139.80 L296.08,139.81 L296.58,139.81 L297.08,139.81 L297.58,139.81 L298.08,139.82 L298.58,139.82 L299.08,139.82 L299.58,139.82 L300.08,139.83 L300.58,139.83 L301.08,139.83 L301.58,139.83 L302.08,139.84 L302.58,139.84 L303.07,139.84 L303.57,139.84 L304.07,139.85 L304.57,139.85 L305.07,139.85 L305.57,139.85 L306.07,139.86 L306.57,139.86 L307.07,139.86 L307.57,139.86 L308.07,139.87 L308.57,139.87 L309.07,139.87 L309.57,139.87 L310.07,139.88 L310.57,139.88 L311.07,139.88 L311.57,139.88 L312.07,139.89 L312.57,139.89 L313.07,139.89 L313.57,139.89 L314.06,139.90 L314.56,139.90 L315.06,139.90 L315.56,139.90 L316.06,139.91 L316.56,139.91 L317.06,139.91 L317.56,139.91 L318.06,139.91 L318.56,139.92 L319.06,139.92 L319.56,139.92 L320.06,139.92 L320.56,139.93 L321.06,139.93 L321.56,139.93 L322.06,139.93 L322.56,139.93 L323.06,139.94 L323.56,139.94 L324.06,139.94 L324.56,139.94 L325.06,139.95 L325.55,139.95 L326.05,139.95 L326.55,139.95 L327.05,139.95 L327.55,139.96 L328.05,139.96 L328.55,139.96 L329.05,139.96 L329.55,139.96 L330.05,139.97 L330.55,139.97 L331.05,139.97 L331.55,139.97 L332.05,139.97 L332.55,139.98 L333.05,139.98 L333.55,139.98 L334.05,139.98 L334.55,139.98 L335.05,139.99 L335.55,139.99 L336.05,139.99 L336.55,139.99 L337.04,139.99 L337.54,139.99 L338.04,140.00 L338.54,140.00 L339.04,140.00 L339.54,140.00 L340.04,140.00 L340.54,140.01 L341.04,140.01 L341.54,140.01 L342.04,140.01 L342.54,140.01 L343.04,140.01 L343.54,140.02 L344.04,140.02 L344.54,140.02 L345.04,140.02 L345.54,140.02 L346.04,140.02 L346.54,140.03 L347.04,140.03 L347.54,140.03 L348.04,140.03 L348.54,140.03 L349.03,140.03 L349.53,140.03 L350.03,140.04 L350.53,140.04 L351.03,140.04 L351.53,140.04 L352.03,140.04 L352.53,140.04 L353.03,140.04 L353.53,140.05 L354.03,140.05 L354.53,140.05 L355.03,140.05 L355.53,140.05 L356.03,140.05 L356.53,140.05 L357.03,140.05 L357.53,140.06 L358.03,140.06 L358.53,140.06 L359.03,140.06 L359.53,140.06 L360.03,140.06 L360.52,140.06 L361.02,140.06 L361.52,140.07 L362.02,140.07 L362.52,140.07 L363.02,140.07 L363.52,140.07 L364.02,140.07 L364.52,140.07 L365.02,140.07 L365.52,140.07 L366.02,140.07 L366.52,140.08 L367.02,140.08 L367.52,140.08 L368.02,140.08 L368.52,140.08 L369.02,140.08 L369.52,140.08 L370.02,140.08 L370.52,140.08 L371.02,140.08 L371.52,140.08 L372.02,140.09 L372.52,140.09 L373.01,140.09 L373.51,140.09 L374.01,140.09 L374.51,140.09 L375.01,140.09 L375.51,140.09 L376.01,140.09 L376.51,140.09 L377.01,140.09 L377.51,140.09 L378.01,140.09 L378.51,140.09 L379.01,140.09 L379.51,140.09 L380.01,140.09 L380.51,140.10 L381.01,140.10 L381.51,140.10 L382.01,140.10 L382.51,140.10 L383.01,140.10 L383.51,140.10 L384.01,140.10 L384.51,140.10 L385.01,140.10 L385.50,140.10 L386.00,140.10 L386.50,140.10 L387.00,140.10 L387.50,140.10 L388.00,140.10 L388.50,140.10 L389.00,140.10 L389.50,140.10 L390.00,140.10 L390.50,140.10 L391.00,140.10 L391.50,140.10" fill="none" stroke="#4f0560" stroke-width="1.3" stroke-linejoin="round"/>
<g fill="#0a680a">
<circle cx="68.40" cy="72.00" r="1.75"/>
<circle cx="69.10" cy="84.70" r="1.75"/>
<circle cx="70.40" cy="95.80" r="1.75"/>
<circle cx="71.30" cy="103.90" r="1.75"/>
<circle cx="72.60" cy="110.90" r="1.75"/>
<circle cx="73.60" cy="117.30" r="1.75"/>
<circle cx="74.50" cy="121.90" r="1.75"/>
<circle cx="75.30" cy="125.40" r="1.75"/>
<circle cx="79.40" cy="137.10" r="1.75"/>
<circle cx="83.20" cy="144.20" r="1.75"/>
<circle cx="87.70" cy="148.80" r="1.75"/>
<circle cx="95.30" cy="155.50" r="1.75"/>
<circle cx="103.20" cy="159.19" r="1.75"/>
<circle cx="111.30" cy="162.02" r="1.75"/>
<circle cx="119.50" cy="163.50" r="1.75"/>
<circle cx="127.60" cy="165.00" r="1.75"/>
<circle cx="135.60" cy="166.10" r="1.75"/>
<circle cx="143.60" cy="166.60" r="1.75"/>
<circle cx="151.50" cy="167.20" r="1.75"/>
<circle cx="159.60" cy="167.60" r="1.75"/>
<circle cx="167.70" cy="167.70" r="1.75"/>
<circle cx="175.80" cy="167.81" r="1.75"/>
<circle cx="183.70" cy="167.80" r="1.75"/>
<circle cx="191.80" cy="167.80" r="1.75"/>
<circle cx="199.90" cy="167.80" r="1.75"/>
<circle cx="208.00" cy="167.80" r="1.75"/>
<circle cx="216.00" cy="167.80" r="1.75"/>
<circle cx="224.10" cy="167.80" r="1.75"/>
<circle cx="232.20" cy="167.80" r="1.75"/>
<circle cx="240.30" cy="167.71" r="1.75"/>
<circle cx="248.40" cy="167.96" r="1.75"/>
<circle cx="256.50" cy="168.00" r="1.75"/>
<circle cx="264.40" cy="167.80" r="1.75"/>
<circle cx="272.50" cy="167.60" r="1.75"/>
<circle cx="280.40" cy="167.60" r="1.75"/>
<circle cx="288.30" cy="167.60" r="1.75"/>
<circle cx="296.10" cy="167.40" r="1.75"/>
<circle cx="304.20" cy="167.20" r="1.75"/>
<circle cx="312.30" cy="167.00" r="1.75"/>
<circle cx="320.40" cy="167.00" r="1.75"/>
<circle cx="328.50" cy="166.60" r="1.75"/>
<circle cx="336.50" cy="166.20" r="1.75"/>
<circle cx="344.60" cy="166.10" r="1.75"/>
<circle cx="352.70" cy="165.80" r="1.75"/>
<circle cx="360.70" cy="165.40" r="1.75"/>
<circle cx="368.70" cy="165.30" r="1.75"/>
<circle cx="376.80" cy="165.20" r="1.75"/>
<circle cx="384.80" cy="165.20" r="1.75"/>
</g>
<g fill="#4f0560">
<rect x="32.35" y="224.30" width="4.5" height="4.5"/>
<rect x="33.25" y="224.10" width="4.5" height="4.5"/>
<rect x="34.15" y="223.90" width="4.5" height="4.5"/>
<rect x="35.05" y="223.70" width="4.5" height="4.5"/>
<rect x="35.95" y="223.51" width="4.5" height="4.5"/>
<rect x="36.85" y="223.31" width="4.5" height="4.5"/>
<rect x="37.75" y="223.11" width="4.5" height="4.5"/>
<rect x="38.65" y="222.91" width="4.5" height="4.5"/>
<rect x="39.55" y="222.71" width="4.5" height="4.5"/>
<rect x="40.45" y="222.52" width="4.5" height="4.5"/>
<rect x="41.35" y="222.32" width="4.5" height="4.5"/>
<rect x="42.65" y="221.35" width="4.5" height="4.5"/>
<rect x="43.35" y="220.05" width="4.5" height="4.5"/>
<rect x="44.05" y="218.15" width="4.5" height="4.5"/>
<rect x="44.75" y="215.75" width="4.5" height="4.5"/>
<rect x="45.55" y="212.95" width="4.5" height="4.5"/>
<rect x="46.45" y="207.75" width="4.5" height="4.5"/>
<rect x="47.15" y="200.75" width="4.5" height="4.5"/>
<rect x="47.95" y="192.95" width="4.5" height="4.5"/>
<rect x="49.15" y="184.25" width="4.5" height="4.5"/>
<rect x="50.15" y="172.35" width="4.5" height="4.5"/>
<rect x="51.05" y="160.75" width="4.5" height="4.5"/>
<rect x="51.85" y="146.95" width="4.5" height="4.5"/>
<rect x="52.85" y="134.35" width="4.5" height="4.5"/>
<rect x="53.85" y="121.95" width="4.5" height="4.5"/>
<rect x="54.85" y="106.75" width="4.5" height="4.5"/>
<rect x="55.85" y="94.25" width="4.5" height="4.5"/>
<rect x="56.65" y="83.15" width="4.5" height="4.5"/>
<rect x="57.65" y="69.55" width="4.5" height="4.5"/>
<rect x="58.45" y="61.25" width="4.5" height="4.5"/>
<rect x="59.15" y="52.85" width="4.5" height="4.5"/>
<rect x="60.10" y="47.25" width="4.5" height="4.5"/>
<rect x="61.25" y="43.05" width="4.5" height="4.5"/>
<rect x="62.45" y="40.80" width="4.5" height="4.5"/>
<rect x="63.45" y="40.80" width="4.5" height="4.5"/>
<rect x="64.20" y="43.55" width="4.5" height="4.5"/>
<rect x="65.20" y="45.25" width="4.5" height="4.5"/>
<rect x="66.10" y="49.25" width="4.5" height="4.5"/>
<rect x="66.65" y="51.05" width="4.5" height="4.5"/>
<rect x="67.75" y="58.45" width="4.5" height="4.5"/>
<rect x="68.65" y="63.85" width="4.5" height="4.5"/>
<rect x="69.75" y="68.65" width="4.5" height="4.5"/>
<rect x="70.65" y="74.05" width="4.5" height="4.5"/>
<rect x="71.85" y="79.05" width="4.5" height="4.5"/>
<rect x="72.85" y="83.15" width="4.5" height="4.5"/>
<rect x="74.55" y="89.95" width="4.5" height="4.5"/>
<rect x="77.95" y="100.35" width="4.5" height="4.5"/>
<rect x="81.75" y="108.25" width="4.5" height="4.5"/>
<rect x="85.45" y="114.45" width="4.5" height="4.5"/>
<rect x="92.95" y="122.85" width="4.5" height="4.5"/>
<rect x="100.55" y="126.65" width="4.5" height="4.5"/>
<rect x="107.85" y="126.95" width="4.5" height="4.5"/>
<rect x="115.45" y="127.05" width="4.5" height="4.5"/>
<rect x="123.05" y="129.25" width="4.5" height="4.5"/>
<rect x="130.35" y="132.75" width="4.5" height="4.5"/>
<rect x="137.75" y="135.25" width="4.5" height="4.5"/>
<rect x="145.25" y="136.95" width="4.5" height="4.5"/>
<rect x="152.55" y="135.55" width="4.5" height="4.5"/>
<rect x="160.05" y="132.95" width="4.5" height="4.5"/>
<rect x="167.75" y="131.95" width="4.5" height="4.5"/>
<rect x="174.95" y="133.35" width="4.5" height="4.5"/>
<rect x="182.65" y="135.95" width="4.5" height="4.5"/>
<rect x="189.95" y="137.35" width="4.5" height="4.5"/>
<rect x="197.05" y="137.35" width="4.5" height="4.5"/>
<rect x="204.95" y="135.95" width="4.5" height="4.5"/>
<rect x="212.45" y="133.55" width="4.5" height="4.5"/>
<rect x="219.85" y="132.55" width="4.5" height="4.5"/>
<rect x="226.95" y="132.55" width="4.5" height="4.5"/>
<rect x="234.65" y="134.35" width="4.5" height="4.5"/>
<rect x="242.15" y="136.35" width="4.5" height="4.5"/>
<rect x="249.55" y="136.35" width="4.5" height="4.5"/>
<rect x="256.85" y="134.95" width="4.5" height="4.5"/>
<rect x="264.55" y="132.95" width="4.5" height="4.5"/>
<rect x="272.05" y="131.55" width="4.5" height="4.5"/>
<rect x="279.55" y="131.55" width="4.5" height="4.5"/>
<rect x="287.25" y="132.35" width="4.5" height="4.5"/>
<rect x="294.45" y="133.35" width="4.5" height="4.5"/>
<rect x="301.95" y="133.55" width="4.5" height="4.5"/>
<rect x="309.45" y="132.95" width="4.5" height="4.5"/>
<rect x="316.85" y="131.95" width="4.5" height="4.5"/>
<rect x="324.35" y="130.95" width="4.5" height="4.5"/>
<rect x="331.85" y="130.35" width="4.5" height="4.5"/>
<rect x="339.25" y="130.55" width="4.5" height="4.5"/>
<rect x="346.75" y="131.25" width="4.5" height="4.5"/>
<rect x="354.05" y="131.45" width="4.5" height="4.5"/>
<rect x="361.65" y="130.65" width="4.5" height="4.5"/>
<rect x="369.25" y="129.45" width="4.5" height="4.5"/>
<rect x="376.85" y="128.75" width="4.5" height="4.5"/>
<rect x="384.45" y="128.25" width="4.5" height="4.5"/>
</g>
<g font-size="11.5">
<text x="248" y="150.5" fill="#4f0560">L=96</text>
<text x="302.6" y="150.5" fill="#4f0560">Γ/Δ =0.08</text>
<text x="245" y="183.8" fill="#0a680a">L=192</text>
<text x="302.6" y="183.8" fill="#0a680a">Γ/Δ =0.03</text>
</g>
<rect x="212" y="7" width="175" height="120" fill="#fff"/>
<g stroke="#cbcbcb" stroke-width="1" fill="none"><rect x="250.5" y="14.5" width="129.0" height="79.5"/></g>
<g stroke="#cbcbcb" stroke-width="0.8">
<line x1="274.06" y1="94.0" x2="274.06" y2="92.0"/>
<line x1="297.62" y1="94.0" x2="297.62" y2="92.0"/>
<line x1="321.18" y1="94.0" x2="321.18" y2="92.0"/>
<line x1="344.74" y1="94.0" x2="344.74" y2="92.0"/>
<line x1="368.30" y1="94.0" x2="368.30" y2="92.0"/>
<line x1="250.5" y1="67.50" x2="252.5" y2="67.50"/>
<line x1="250.5" y1="41.00" x2="252.5" y2="41.00"/>
</g>
<g fill="#666666" font-size="12.3">
<text x="248.50" y="97.30" text-anchor="end">0</text>
<text x="248.50" y="70.80" text-anchor="end">0.1</text>
<text x="248.50" y="44.30" text-anchor="end">0.2</text>
<text x="248.50" y="17.80" text-anchor="end">0.3</text>
<text x="274.06" y="105" text-anchor="middle">0.2</text>
<text x="297.62" y="105" text-anchor="middle">0.4</text>
<text x="321.18" y="105" text-anchor="middle">0.6</text>
<text x="344.74" y="105" text-anchor="middle">0.8</text>
<text x="368.30" y="105" text-anchor="middle">1</text>
<text x="305.5" y="123.6">1/L<tspan font-size="8.7" dy="-3.8">2</tspan></text>
<text transform="translate(227,63.4) rotate(-90)" letter-spacing="0.5">Γ/Δ</text>
</g>
<line x1="250.5" y1="88.83" x2="379.5" y2="21.68" stroke="#4470b0" stroke-width="1.2" stroke-linecap="square"/>
<circle cx="257.86" cy="86.05" r="2" fill="#4470b0"/>
<circle cx="279.95" cy="72.80" r="2" fill="#4470b0"/>
<circle cx="368.30" cy="27.75" r="2" fill="#4470b0"/>
<text transform="translate(290.2,65.85) rotate(-27.5)" font-size="12.05" fill="#3c3c3c">0.018+0.23 x</text>
</svg></body></html>
